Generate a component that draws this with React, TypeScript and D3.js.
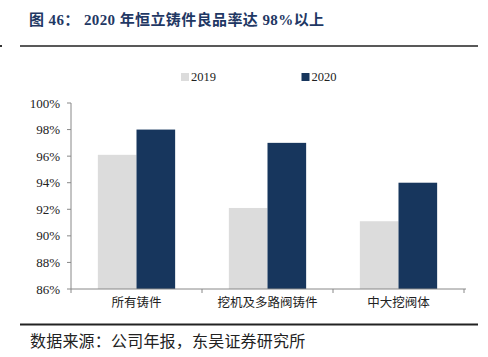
import React from "react";
import * as d3 from "d3";

const categories = ["所有铸件", "挖机及多路阀铸件", "中大挖阀体"];
const series = ["2019", "2020"];
const values2019 = [96.1, 92.1, 91.1];
const values2020 = [98, 97, 94];
const yTicks = [86, 88, 90, 92, 94, 96, 98, 100];
const colors = ["#dcdcdc", "#17365d"];

const W = 488, H = 357;
const left = 71, right = 464, top = 103, bottom = 289;

export default function App() {
  const x0 = d3.scaleBand<string>().domain(categories).range([left, right]).paddingInner(0).paddingOuter(0);
  const inner = 0.59;
  const x1 = d3.scaleBand<string>().domain(series).range([0, x0.bandwidth() * inner]).padding(0);
  const y = d3.scaleLinear().domain([86, 100]).range([bottom, top]);
  const data = [values2019, values2020];
  const serif = "'Liberation Serif', 'Times New Roman', serif";
  const cjk = "'Noto Sans CJK SC', sans-serif";
  const offset = (x0.bandwidth() * (1 - inner)) / 2;
  return (
    <svg width={W} height={H} style={{ position: "absolute", left: 0, top: 0, background: "#fff" }}>
      <text x={29} y={25} fontSize={15} fontWeight="bold" fill="#1f3864" letterSpacing={0.4} fontFamily={`${serif}, ${cjk}`}>
        <tspan fontFamily={cjk}>图</tspan>
        <tspan> 46</tspan>
        <tspan fontFamily={cjk}>：</tspan>
        <tspan> 2020 </tspan>
        <tspan fontFamily={cjk}>年恒立铸件良品率达</tspan>
        <tspan> 98%</tspan>
        <tspan fontFamily={cjk}>以上</tspan>
      </text>
      <rect x={0} y={45} width={2} height={2} fill="#333" />
      <line x1={20} x2={478} y1={46} y2={46} stroke="#222" strokeWidth={1.5} />
      {/* legend */}
      {series.map((s, i) => (
        <g key={s} transform={`translate(${181 + i * 120.5},73)`}>
          <rect x={0} y={0} width={8} height={8} fill={colors[i]} />
          <text x={10} y={8} fontSize={12.5} fontFamily={serif} fill="#222">{s}</text>
        </g>
      ))}
      {/* bars */}
      {categories.map((c, ci) => (
        <g key={c}>
          {series.map((s, si) => {
            const v = data[si][ci];
            const bx = (x0(c) as number) + offset + (x1(s) as number);
            return (
              <rect key={s} x={bx} y={y(v)} width={x1.bandwidth()} height={bottom - y(v)} fill={colors[si]} />
            );
          })}
        </g>
      ))}
      {/* y axis */}
      <line x1={left} x2={left} y1={top} y2={bottom} stroke="#888" />
      {yTicks.map((t) => (
        <g key={t}>
          <line x1={left - 4} x2={left} y1={y(t)} y2={y(t)} stroke="#888" />
          <text x={60} y={y(t) + 4.5} textAnchor="end" fontSize={13} fontFamily={serif} fill="#222">{t}%</text>
        </g>
      ))}
      {/* x axis */}
      <line x1={left} x2={right + 2} y1={bottom} y2={bottom} stroke="#888" />
      {[...categories.map((c) => x0(c) as number), right].map((xv, i) => (
        <line key={i} x1={xv} x2={xv} y1={bottom} y2={bottom + 4} stroke="#888" />
      ))}
      {categories.map((c) => (
        <text key={c} x={(x0(c) as number) + x0.bandwidth() / 2} y={307} textAnchor="middle" fontSize={12.5} fontFamily={cjk} fill="#222">{c}</text>
      ))}
      <line x1={20} x2={478} y1={324.5} y2={324.5} stroke="#222" strokeWidth={2} />
      <text x={30} y={347} fontSize={16} letterSpacing={0.2} fontFamily={cjk} fill="#222">数据来源：公司年报，东吴证券研究所</text>
    </svg>
  );
}
